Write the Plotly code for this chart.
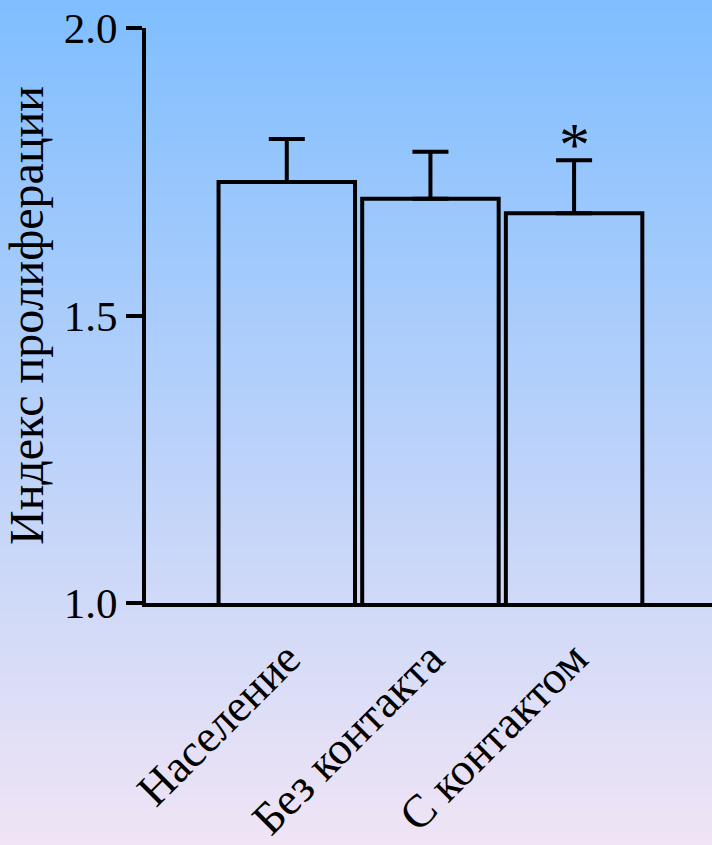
import plotly.graph_objects as go

categories = ["Население", "Без контакта", "С контактом"]
values = [1.732, 1.703, 1.678]
errors = [0.075, 0.082, 0.092]
significance = ["", "", "*"]
y_ticks = [1.0, 1.5, 2.0]
y_title = "Индекс пролиферации"

W, H = 712, 845
L, R, T, B = 146, 0, 28, 242
FONT = "Liberation Serif, Times New Roman, DejaVu Serif, serif"

fig = go.Figure()
fig.add_trace(go.Bar(
    x=[0, 1, 2], y=values,
    marker=dict(color="rgba(0,0,0,0)", line=dict(color="black", width=4)),
    error_y=dict(type="data", array=errors, arrayminus=[0] * len(errors),
                 symmetric=False, color="black", thickness=4, width=18),
    width=0.95,
))

for i, s in enumerate(significance):
    if s:
        fig.add_annotation(x=i, y=values[i] + errors[i], text=s, showarrow=False,
                           yanchor="bottom", yshift=-20,
                           font=dict(family=FONT, size=62, color="black"))

# background gradient (strips)
top = (127, 190, 255)
bot = (240, 228, 245)
n = 120
ph = H - T - B
y0p = -B / ph
y1p = 1 + T / ph
for k in range(n):
    f = k / (n - 1)
    c = tuple(round(top[j] + (bot[j] - top[j]) * f) for j in range(3))
    ya = y1p - (y1p - y0p) * k / n
    yb = y1p - (y1p - y0p) * (k + 1) / n
    fig.add_shape(type="rect", xref="paper", yref="paper",
                  x0=-L / (W - L - R) - 0.01, x1=1.01, y0=yb - 0.002, y1=ya + 0.001,
                  fillcolor="rgb(%d,%d,%d)" % c, line=dict(width=0), layer="below")

fig.update_layout(
    width=W, height=H,
    margin=dict(l=L, r=R, t=T, b=B),
    paper_bgcolor="rgb(240,228,245)", plot_bgcolor="rgba(0,0,0,0)",
    showlegend=False,
    font=dict(family=FONT, color="black", size=44),
    xaxis=dict(range=[-0.98, 2.96], tickmode="array", tickvals=[0, 1, 2],
               ticktext=categories, tickangle=-45, showgrid=False, zeroline=False,
               showline=True, linecolor="black", linewidth=4, ticks="",
               ticklabelstandoff=6,
               tickfont=dict(family=FONT, size=46, color="black")),
    yaxis=dict(range=[1, 2], tickmode="array", tickvals=y_ticks,
               tickformat=".1f", showgrid=False, zeroline=False,
               showline=True, linecolor="black", linewidth=4,
               ticks="outside", ticklen=16, tickwidth=4, tickcolor="black",
               tickfont=dict(family=FONT, size=43, color="black"),
               title=dict(text=y_title, font=dict(family=FONT, size=48, color="black"),
                          standoff=10)),
)

fig.write_html("out.html", config={"displayModeBar": False},
               post_script="document.body.style.margin='0';document.body.style.padding='0';")
